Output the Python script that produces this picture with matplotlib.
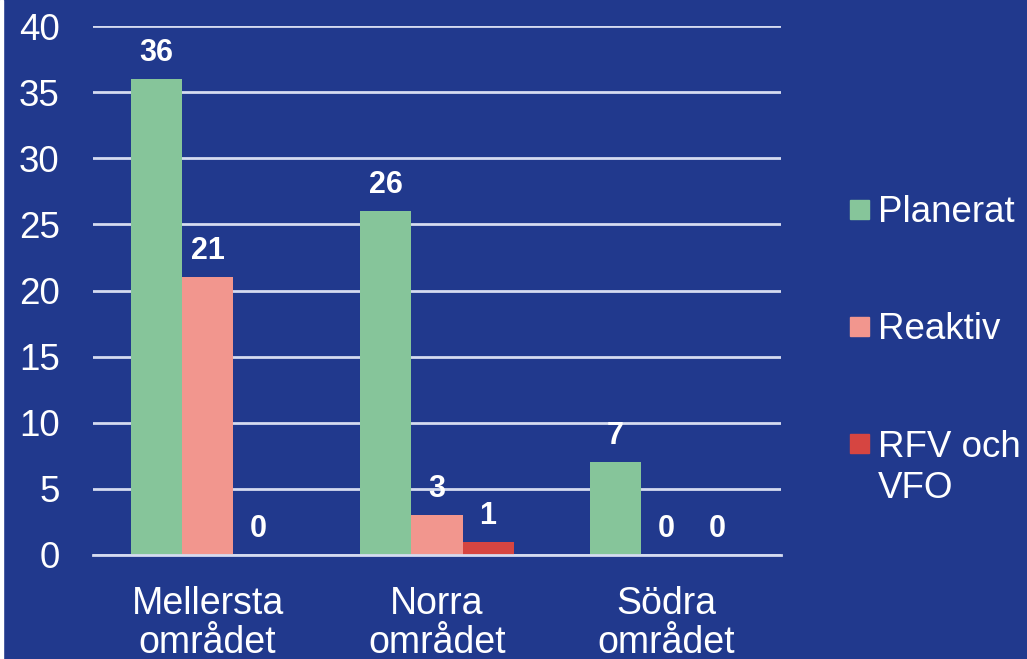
import matplotlib
matplotlib.use("Agg")
import matplotlib.pyplot as plt
import numpy as np
from matplotlib.patches import Rectangle

plt.rcParams['font.family'] = ['Liberation Sans', 'DejaVu Sans']

categories = ["Mellersta\nområdet", "Norra\nområdet", "Södra\nområdet"]
series_names = ["Planerat", "Reaktiv", "RFV och\nVFO"]
planerat = [36, 26, 7]
reaktiv = [21, 3, 0]
rfv_vfo = [0, 1, 0]
yticks = [0, 5, 10, 15, 20, 25, 30, 35, 40]

bg = "#21398D"
colors = ["#86C59A", "#F2968E", "#D64541"]
grid_c = "#D5DBF0"

W, H = 1027, 659
fig = plt.figure(figsize=(W / 100, H / 100), dpi=100)
fig.patch.set_facecolor(bg)
ax = fig.add_axes([93 / W, 1 - 555 / H, (781 - 93) / W, (555 - 26) / H])
ax.set_facecolor(bg)

x = np.arange(len(categories))
w = 0.2225
series = [planerat, reaktiv, rfv_vfo]
for i, (vals, name, c) in enumerate(zip(series, series_names, colors)):
    bars = ax.bar(x + (i - 1) * w, vals, width=w, color=c, label=name, zorder=3)
    ax.bar_label(bars, labels=[str(v) for v in vals], padding=8, color="white",
                 fontsize=22, fontweight="bold", zorder=4)

ax.set_xlim(-0.5, 2.5)
ax.set_ylim(0, 40)
ax.set_yticks(yticks)
ax.set_yticklabels([str(t) for t in yticks])
ax.set_xticks(x)
ax.set_xticklabels(categories)
ax.tick_params(axis='y', length=0, pad=24, labelsize=26.5, labelcolor="white")
ax.tick_params(axis='x', length=0, pad=22, labelsize=27, labelcolor="white")
for lab in ax.get_xticklabels():
    lab.set_linespacing(1.14)
ax.yaxis.grid(True, color=grid_c, linewidth=2, zorder=0)
ax.set_axisbelow(True)
for s in ["top", "right", "left"]:
    ax.spines[s].set_visible(False)
ax.spines["bottom"].set_color(grid_c)
ax.spines["bottom"].set_linewidth(2)
ax.spines["bottom"].set_zorder(5)

# legend, drawn as patches + text in figure pixels
sq = 19
leg_x = 850
line_px = 42
leg_centers = [209.5, 326.5, 443.5]
for name, c, yc in zip(series_names, colors, leg_centers):
    fig.patches.append(Rectangle((leg_x / W, 1 - (yc + sq / 2) / H), sq / W, sq / H,
                                 transform=fig.transFigure, color=c))
    nlines = name.count("\n")
    fig.text(878 / W, 1 - (yc + 12.5 + nlines * line_px) / H, name, color="white",
             fontsize=26.5, va="baseline", ha="left", linespacing=1.225)

fig.patches.append(Rectangle((0, 0), 3 / W, 1, transform=fig.transFigure,
                             color="white", zorder=10))

fig.savefig("out.png", dpi=100, facecolor=bg)
